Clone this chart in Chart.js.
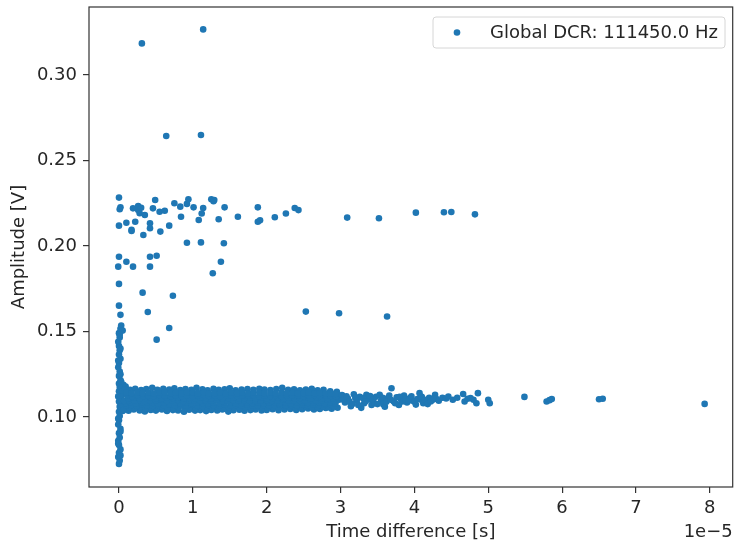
<!DOCTYPE html>
<html>
<head>
<meta charset="utf-8">
<script src="https://cdn.jsdelivr.net/npm/chart.js@4.4.0/dist/chart.umd.min.js"></script>
<style>
  html, body { margin: 0; padding: 0; background: #fff; }
  canvas { display: block; }
</style>
</head>
<body>
<canvas id="grafico" width="736" height="543"></canvas>
<script>
// x values are in units of 1e-5 s (matplotlib offset text "1e−5")
const legendLabel = 'Global DCR: 111450.0 Hz';
const xTicks = [0, 1, 2, 3, 4, 5, 6, 7, 8];
const yTicks = [0.10, 0.15, 0.20, 0.25, 0.30];

// vertical spike at zero time difference
const columnPts = [
  [0.00, 0.0725], [0.01, 0.0745], [-0.01, 0.0765], [0.00, 0.0790], [0.02, 0.0810],
  [0.00, 0.0835], [-0.01, 0.0860], [0.01, 0.0880], [0.00, 0.0905], [0.02, 0.0930],
  [-0.01, 0.0955], [0.00, 0.0980], [0.01, 0.1005], [0.00, 0.1030], [0.01, 0.1060],
  [0.00, 0.1090], [-0.01, 0.1120], [0.00, 0.1150], [0.01, 0.1175], [0.00, 0.1195],
  [0.02, 0.1215], [0.00, 0.1240], [0.01, 0.1265], [-0.01, 0.1290], [0.00, 0.1315],
  [0.02, 0.1340], [0.00, 0.1365], [0.01, 0.1390], [0.00, 0.1415], [-0.01, 0.1440],
  [0.01, 0.1465], [0.00, 0.1490], [0.02, 0.1515], [0.03, 0.1535], [0.05, 0.1505],
  [0.02, 0.0775], [-0.01, 0.0845], [0.02, 0.0915], [-0.01, 0.0990], [0.02, 0.1250],
  [-0.01, 0.1330], [0.02, 0.1400], [0.01, 0.1480]
];

// dense band around 0.11 V
const bandPts = [
  [0.03, 0.1205], [0.06, 0.1188], [0.04, 0.1172], [0.09, 0.1178], [0.05, 0.1150],
  [0.03, 0.1120], [0.04, 0.1090], [0.03, 0.1060], [0.05, 0.1035],
  // upper edge
  [0.08, 0.1162], [0.15, 0.1158], [0.22, 0.1165], [0.30, 0.1157], [0.37, 0.1163],
  [0.45, 0.1170], [0.52, 0.1158], [0.60, 0.1164], [0.68, 0.1160], [0.75, 0.1168],
  [0.83, 0.1157], [0.90, 0.1163], [0.98, 0.1159], [1.05, 0.1170], [1.13, 0.1161],
  [1.20, 0.1156], [1.28, 0.1164], [1.35, 0.1159], [1.43, 0.1162], [1.50, 0.1167],
  [1.58, 0.1156], [1.66, 0.1160], [1.74, 0.1163], [1.82, 0.1158], [1.90, 0.1165],
  [1.97, 0.1160], [2.05, 0.1157], [2.13, 0.1163], [2.21, 0.1170], [2.29, 0.1159],
  [2.37, 0.1162], [2.45, 0.1156], [2.53, 0.1160], [2.61, 0.1164], [2.69, 0.1155],
  [2.77, 0.1158], [2.86, 0.1150], [2.95, 0.1147],
  // lower edge
  [0.06, 0.1040], [0.13, 0.1036], [0.20, 0.1043], [0.28, 0.1038], [0.35, 0.1032],
  [0.43, 0.1041], [0.50, 0.1037], [0.58, 0.1044], [0.65, 0.1035], [0.73, 0.1040],
  [0.80, 0.1038], [0.88, 0.1030], [0.95, 0.1042], [1.03, 0.1037], [1.10, 0.1040],
  [1.18, 0.1034], [1.25, 0.1041], [1.33, 0.1038], [1.40, 0.1043], [1.48, 0.1031],
  [1.55, 0.1039], [1.63, 0.1042], [1.70, 0.1036], [1.78, 0.1040], [1.85, 0.1044],
  [1.93, 0.1038], [2.00, 0.1041], [2.08, 0.1045], [2.16, 0.1039], [2.24, 0.1043],
  [2.32, 0.1047], [2.40, 0.1041], [2.48, 0.1045], [2.56, 0.1049], [2.64, 0.1043],
  [2.72, 0.1047], [2.80, 0.1052], [2.88, 0.1048], [2.96, 0.1054],
  // inner rows
  [0.14, 0.1054], [0.21, 0.1050], [0.29, 0.1056], [0.36, 0.1052], [0.44, 0.1055],
  [0.51, 0.1051], [0.59, 0.1057], [0.66, 0.1053], [0.74, 0.1050], [0.81, 0.1055],
  [0.89, 0.1052], [0.96, 0.1056], [1.04, 0.1051], [1.11, 0.1054], [1.19, 0.1057],
  [1.26, 0.1052], [1.34, 0.1055], [1.41, 0.1050], [1.49, 0.1054], [1.56, 0.1056],
  [1.64, 0.1051], [1.71, 0.1055], [1.79, 0.1053], [1.86, 0.1057], [1.94, 0.1052],
  [2.01, 0.1054], [2.09, 0.1056], [2.16, 0.1051], [2.24, 0.1055], [2.31, 0.1058],
  [2.39, 0.1053], [2.46, 0.1056], [2.54, 0.1060], [2.61, 0.1055], [2.69, 0.1058],
  [2.76, 0.1062], [2.84, 0.1057], [2.91, 0.1061],
  [0.10, 0.1066], [0.17, 0.1070], [0.24, 0.1065], [0.31, 0.1071], [0.38, 0.1067],
  [0.46, 0.1064], [0.53, 0.1070], [0.61, 0.1068], [0.68, 0.1072], [0.76, 0.1066],
  [0.83, 0.1069], [0.91, 0.1065], [0.98, 0.1071], [1.06, 0.1067], [1.13, 0.1064],
  [1.21, 0.1070], [1.28, 0.1068], [1.36, 0.1066], [1.43, 0.1071], [1.51, 0.1065],
  [1.58, 0.1069], [1.66, 0.1067], [1.73, 0.1072], [1.81, 0.1066], [1.88, 0.1068],
  [1.96, 0.1070], [2.03, 0.1065], [2.11, 0.1069], [2.18, 0.1072], [2.26, 0.1067],
  [2.33, 0.1070], [2.41, 0.1066], [2.48, 0.1071], [2.56, 0.1068], [2.63, 0.1073],
  [2.71, 0.1069], [2.78, 0.1072], [2.86, 0.1075], [2.93, 0.1078],
  [0.09, 0.1081], [0.16, 0.1084], [0.23, 0.1080], [0.31, 0.1083], [0.38, 0.1086],
  [0.46, 0.1081], [0.53, 0.1079], [0.61, 0.1084], [0.68, 0.1082], [0.76, 0.1085],
  [0.83, 0.1080], [0.91, 0.1083], [0.98, 0.1081], [1.06, 0.1086], [1.13, 0.1082],
  [1.21, 0.1079], [1.28, 0.1084], [1.36, 0.1081], [1.43, 0.1083], [1.51, 0.1086],
  [1.58, 0.1080], [1.66, 0.1082], [1.73, 0.1085], [1.81, 0.1081], [1.88, 0.1084],
  [1.96, 0.1079], [2.03, 0.1083], [2.11, 0.1086], [2.18, 0.1081], [2.26, 0.1084],
  [2.33, 0.1080], [2.41, 0.1083], [2.48, 0.1085], [2.56, 0.1081], [2.63, 0.1084],
  [2.71, 0.1086], [2.78, 0.1082], [2.86, 0.1085], [2.93, 0.1088],
  [0.07, 0.1094], [0.14, 0.1098], [0.21, 0.1095], [0.28, 0.1099], [0.35, 0.1093],
  [0.42, 0.1097], [0.50, 0.1095], [0.57, 0.1100], [0.65, 0.1094], [0.72, 0.1097],
  [0.80, 0.1099], [0.87, 0.1093], [0.95, 0.1096], [1.02, 0.1098], [1.10, 0.1094],
  [1.17, 0.1097], [1.25, 0.1095], [1.32, 0.1100], [1.40, 0.1093], [1.47, 0.1096],
  [1.55, 0.1098], [1.62, 0.1095], [1.70, 0.1099], [1.77, 0.1094], [1.85, 0.1097],
  [1.92, 0.1095], [2.00, 0.1098], [2.07, 0.1094], [2.15, 0.1097], [2.22, 0.1100],
  [2.30, 0.1095], [2.37, 0.1098], [2.45, 0.1094], [2.52, 0.1097], [2.60, 0.1099],
  [2.67, 0.1095], [2.75, 0.1098], [2.82, 0.1101], [2.90, 0.1097], [2.98, 0.1100],
  [0.13, 0.1109], [0.20, 0.1112], [0.28, 0.1108], [0.35, 0.1111], [0.43, 0.1113],
  [0.50, 0.1109], [0.58, 0.1107], [0.65, 0.1112], [0.73, 0.1110], [0.80, 0.1113],
  [0.88, 0.1108], [0.95, 0.1111], [1.03, 0.1109], [1.10, 0.1114], [1.18, 0.1110],
  [1.25, 0.1107], [1.33, 0.1112], [1.40, 0.1109], [1.48, 0.1111], [1.55, 0.1114],
  [1.63, 0.1108], [1.70, 0.1110], [1.78, 0.1113], [1.85, 0.1109], [1.93, 0.1112],
  [2.00, 0.1107], [2.08, 0.1111], [2.15, 0.1114], [2.23, 0.1109], [2.30, 0.1112],
  [2.38, 0.1108], [2.45, 0.1111], [2.53, 0.1113], [2.60, 0.1109], [2.68, 0.1112],
  [2.75, 0.1108], [2.83, 0.1111], [2.90, 0.1109], [2.97, 0.1112],
  [0.11, 0.1125], [0.18, 0.1121], [0.25, 0.1127], [0.33, 0.1123], [0.40, 0.1126],
  [0.47, 0.1122], [0.55, 0.1128], [0.62, 0.1124], [0.70, 0.1121], [0.77, 0.1126],
  [0.85, 0.1123], [0.92, 0.1127], [1.00, 0.1122], [1.07, 0.1125], [1.15, 0.1128],
  [1.22, 0.1123], [1.30, 0.1126], [1.37, 0.1121], [1.45, 0.1125], [1.52, 0.1127],
  [1.60, 0.1122], [1.67, 0.1126], [1.75, 0.1124], [1.82, 0.1127], [1.90, 0.1121],
  [1.97, 0.1125], [2.05, 0.1123], [2.12, 0.1128], [2.20, 0.1122], [2.27, 0.1126],
  [2.35, 0.1124], [2.42, 0.1127], [2.50, 0.1121], [2.57, 0.1125], [2.65, 0.1128],
  [2.72, 0.1122], [2.80, 0.1126], [2.87, 0.1123], [2.94, 0.1120],
  [0.10, 0.1141], [0.17, 0.1138], [0.25, 0.1143], [0.32, 0.1139], [0.40, 0.1142],
  [0.47, 0.1137], [0.55, 0.1141], [0.62, 0.1144], [0.70, 0.1139], [0.77, 0.1142],
  [0.85, 0.1138], [0.92, 0.1141], [1.00, 0.1143], [1.07, 0.1139], [1.15, 0.1142],
  [1.22, 0.1137], [1.30, 0.1140], [1.37, 0.1143], [1.45, 0.1138], [1.52, 0.1141],
  [1.60, 0.1139], [1.67, 0.1142], [1.75, 0.1138], [1.82, 0.1141], [1.90, 0.1143],
  [1.97, 0.1139], [2.05, 0.1141], [2.12, 0.1138], [2.20, 0.1142], [2.27, 0.1139],
  [2.35, 0.1141], [2.42, 0.1137], [2.50, 0.1140], [2.57, 0.1142], [2.65, 0.1138],
  [2.72, 0.1140], [2.80, 0.1137], [2.87, 0.1139], [2.94, 0.1134]
];

// thinner band tail beyond 3e-5 s
const bandTailPts = [
  [3.02, 0.1128], [3.06, 0.1085], [3.10, 0.1108], [3.14, 0.1062], [3.18, 0.1132],
  [3.22, 0.1095], [3.26, 0.1118], [3.28, 0.1053], [3.32, 0.1080], [3.35, 0.1129],
  [3.38, 0.1102], [3.42, 0.1070], [3.46, 0.1080], [3.48, 0.1118], [3.53, 0.1129],
  [3.55, 0.1095], [3.58, 0.1072], [3.60, 0.1060], [3.63, 0.1108], [3.66, 0.1125],
  [3.69, 0.1168], [3.72, 0.1090], [3.76, 0.1115], [3.79, 0.1070], [3.82, 0.1100],
  [3.86, 0.1125], [3.90, 0.1085], [3.94, 0.1110], [3.98, 0.1095], [4.02, 0.1072],
  [4.07, 0.1139], [4.09, 0.1100], [4.12, 0.1080], [4.16, 0.1090], [4.20, 0.1112],
  [4.24, 0.1098], [4.28, 0.1129], [4.30, 0.1105],
  [3.04, 0.1100], [3.08, 0.1120], [3.12, 0.1090], [3.16, 0.1075], [3.20, 0.1110],
  [3.24, 0.1070], [3.30, 0.1110], [3.34, 0.1092], [3.40, 0.1122], [3.44, 0.1100],
  [3.50, 0.1075], [3.57, 0.1112], [3.62, 0.1088], [3.68, 0.1100], [3.74, 0.1080],
  [3.80, 0.1118], [3.84, 0.1090], [3.88, 0.1105], [3.92, 0.1095], [3.96, 0.1120],
  [4.00, 0.1088], [4.04, 0.1105], [4.10, 0.1118], [4.14, 0.1100], [4.18, 0.1075],
  [4.22, 0.1090], [4.26, 0.1108], [4.33, 0.1095], [4.38, 0.1112],
  [4.43, 0.1108], [4.46, 0.1119], [4.52, 0.1100], [4.58, 0.1112], [4.66, 0.1134],
  [4.68, 0.1090], [4.72, 0.1106], [4.76, 0.1110], [4.80, 0.1100], [4.86, 0.1139],
  [4.84, 0.1080], [5.00, 0.1100], [5.02, 0.1080], [5.49, 0.1117], [5.79, 0.1090],
  [5.83, 0.1098], [5.86, 0.1105], [6.50, 0.1103], [6.55, 0.1106], [7.93, 0.1076]
];

// cluster around 0.21-0.23 V and points between the two clusters
const upperPts = [
  [0.00, 0.2283], [0.02, 0.2226], [0.01, 0.2215], [0.19, 0.2220], [0.26, 0.2234],
  [0.28, 0.2191], [0.35, 0.2181], [0.49, 0.2269], [0.46, 0.2220], [0.55, 0.2200],
  [0.62, 0.2206], [0.75, 0.2250], [0.83, 0.2230], [0.92, 0.2246], [0.94, 0.2273],
  [1.01, 0.2226], [1.14, 0.2222], [1.25, 0.2273], [1.29, 0.2269], [1.28, 0.2262],
  [1.43, 0.2226], [1.61, 0.2171], [1.88, 0.2226], [1.88, 0.2142], [1.91, 0.2150],
  [2.11, 0.2168], [2.26, 0.2190], [2.38, 0.2222], [2.43, 0.2210],
  [0.00, 0.2119], [0.10, 0.2136], [0.17, 0.2094], [0.17, 0.2088], [0.22, 0.2142],
  [0.26, 0.2210], [0.30, 0.2223], [0.33, 0.2064], [0.42, 0.2133], [0.42, 0.2104],
  [0.56, 0.2084], [0.68, 0.2119], [0.84, 0.2171], [1.08, 0.2152], [1.12, 0.2190],
  [1.35, 0.2156], [0.92, 0.2019], [1.11, 0.2021], [1.42, 0.2016],
  [0.00, 0.1937], [0.10, 0.1908], [0.19, 0.1879], [-0.01, 0.1879], [0.42, 0.1937],
  [0.51, 0.1943], [0.42, 0.1879], [1.38, 0.1908], [1.27, 0.1840], [0.00, 0.1778],
  [0.32, 0.1727], [0.73, 0.1709], [0.00, 0.1651], [0.02, 0.1597], [0.39, 0.1614],
  [0.68, 0.1520], [0.51, 0.1452], [2.53, 0.1616], [2.98, 0.1606], [3.63, 0.1587],
  [3.09, 0.2166], [3.52, 0.2162], [4.02, 0.2195], [4.40, 0.2197], [4.50, 0.2199],
  [4.82, 0.2185]
];

// isolated high-amplitude events
const outlierPts = [
  [0.31, 0.3185], [1.14, 0.3267], [0.64, 0.2643], [1.11, 0.2649]
];

const pointColor = '#1f77b4';
const textColor = '#262626';
const fontFamily = '"DejaVu Sans", sans-serif';
const fontSize = 18;

const allPts = columnPts.concat(bandPts, bandTailPts, upperPts, outlierPts)
  .map(function (p) { return { x: p[0], y: p[1] }; });

// frame, legend and offset text drawn like matplotlib
const decorPlugin = {
  id: 'decor',
  afterDraw: function (chart) {
    const ctx = chart.ctx;
    const a = chart.chartArea;
    ctx.save();
    ctx.strokeStyle = '#333';
    ctx.lineWidth = 1.2;
    ctx.strokeRect(a.left, a.top, a.right - a.left, a.bottom - a.top);

    // legend box
    const bx = 433, by = 17, bw = 292, bh = 31;
    ctx.beginPath();
    ctx.roundRect(bx, by, bw, bh, 3);
    ctx.fillStyle = 'rgba(255,255,255,0.8)';
    ctx.fill();
    ctx.strokeStyle = '#d6d6d6';
    ctx.lineWidth = 1;
    ctx.stroke();
    ctx.beginPath();
    ctx.arc(457, 32.5, 3.3, 0, Math.PI * 2);
    ctx.fillStyle = pointColor;
    ctx.fill();
    ctx.fillStyle = textColor;
    ctx.font = fontSize + 'px ' + fontFamily;
    ctx.textBaseline = 'middle';
    ctx.textAlign = 'left';
    ctx.fillText(legendLabel, 490, 33);

    // offset text of the x axis
    ctx.textAlign = 'right';
    ctx.fillText('1e\u22125', a.right, 532);
    ctx.restore();
  }
};

const ctx = document.getElementById('grafico').getContext('2d');
const grafico = new Chart(ctx, {
  type: 'scatter',
  data: {
    datasets: [
      {
        label: legendLabel,
        data: allPts,
        backgroundColor: pointColor,
        borderWidth: 0,
        pointRadius: 3.3,
        pointHoverRadius: 3.3,
      },
    ],
  },
  options: {
    responsive: false,
    animation: false,
    events: [],
    layout: { padding: { top: 7, right: 3, left: 0, bottom: 0 } },
    scales: {
      x: {
        type: 'linear',
        min: -0.406,
        max: 8.31,
        afterFit: function (s) {
          s.height = 56;
          s.paddingLeft = 0;
          s.paddingRight = 0;
        },
        afterBuildTicks: function (s) {
          s.ticks = xTicks.map(function (v) { return { value: v }; });
        },
        ticks: {
          color: textColor,
          padding: 5,
          maxRotation: 0,
          font: { family: fontFamily, size: fontSize },
          callback: function (v) { return String(v); },
        },
        grid: {
          drawOnChartArea: false,
          tickLength: 6,
          tickColor: '#333',
          lineWidth: 1.2,
        },
        border: { display: false },
        title: {
          display: true,
          text: 'Time difference [s]',
          color: textColor,
          font: { family: fontFamily, size: fontSize },
          padding: { top: 0, bottom: 0 },
        },
      },
      y: {
        type: 'linear',
        min: 0.059,
        max: 0.3398,
        afterFit: function (s) {
          s.width = 89;
          s.paddingTop = 0;
          s.paddingBottom = 0;
        },
        afterBuildTicks: function (s) {
          s.ticks = yTicks.map(function (v) { return { value: v }; });
        },
        ticks: {
          color: textColor,
          padding: 6,
          font: { family: fontFamily, size: fontSize },
          callback: function (v) { return v.toFixed(2); },
        },
        grid: {
          drawOnChartArea: false,
          tickLength: 6,
          tickColor: '#333',
          lineWidth: 1.2,
        },
        border: { display: false },
        title: {
          display: true,
          text: 'Amplitude [V]',
          color: textColor,
          font: { family: fontFamily, size: fontSize },
          padding: { top: 9, bottom: 0 },
        },
      },
    },
    plugins: {
      legend: { display: false },
      tooltip: { enabled: false },
    },
  },
  plugins: [decorPlugin],
});
</script>
</body>
</html>
